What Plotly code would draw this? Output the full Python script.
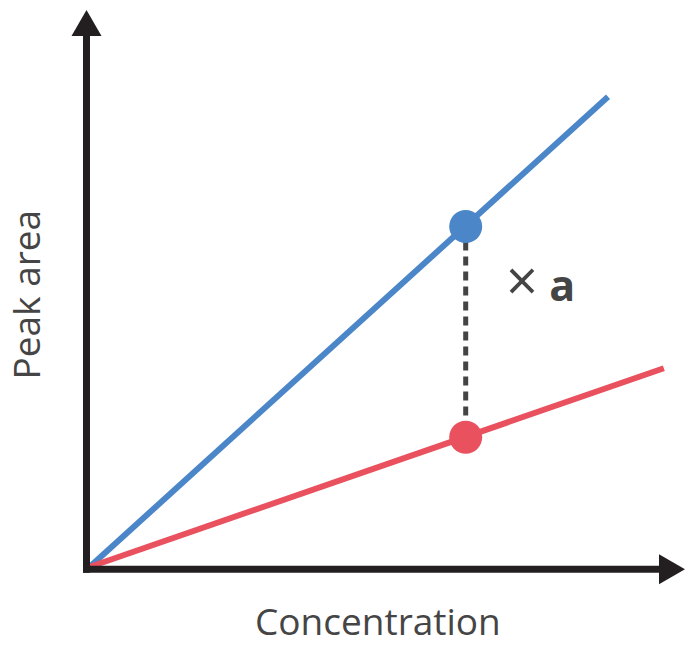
import plotly.graph_objects as go

# measured sample (arbitrary units)
sample_conc = [6.0]
blue_peak = [5.43]
red_peak = [2.07]

# calibration lines from the origin
blue_line_conc = [0, 8.27]
blue_line_area = [0, 7.50]
red_line_conc = [0, 9.16]
red_line_area = [0, 3.17]

x_label = "Concentration"
y_label = "Peak area"
ratio_label = "<span style='font-size:56px;font-weight:400'>×</span> a"

BLUE = "#4a86c8"
RED = "#e9515e"
AXIS = "#231f20"
TEXT = "#454545"

W, H = 696, 646
X0_PX, Y0_PX = 89.5, 567   # where the origin sits on the page
SCALE = 62.7               # pixels per unit


def ux(px):
    return (px - X0_PX) / SCALE


def uy(py):
    return (Y0_PX - py) / SCALE


fig = go.Figure()

# dashed link between the two points
fig.add_trace(go.Scatter(
    x=sample_conc * 2, y=[blue_peak[0], red_peak[0]],
    mode="lines", line=dict(color="#444444", width=5, dash="9px,6px"),
))
fig.add_trace(go.Scatter(
    x=blue_line_conc, y=blue_line_area, mode="lines",
    line=dict(color=BLUE, width=6),
))
fig.add_trace(go.Scatter(
    x=red_line_conc, y=red_line_area, mode="lines",
    line=dict(color=RED, width=6),
))
fig.add_trace(go.Scatter(
    x=sample_conc, y=blue_peak, mode="markers",
    marker=dict(color=BLUE, size=33, line_width=0),
))
fig.add_trace(go.Scatter(
    x=sample_conc, y=red_peak, mode="markers",
    marker=dict(color=RED, size=33, line_width=0),
))

# axes with arrow heads
shapes = [
    dict(type="line", x0=ux(86.5), x1=ux(86.5), y0=uy(572.7), y1=uy(35),
         line=dict(color=AXIS, width=7)),
    dict(type="line", x0=ux(83), x1=ux(660), y0=uy(569.3), y1=uy(569.3),
         line=dict(color=AXIS, width=7)),
    dict(type="path",
         path="M {},{} L {},{} L {},{} Z".format(ux(71.5), uy(36), ux(101.5), uy(36), ux(86.5), uy(10)),
         fillcolor=AXIS, line_width=0),
    dict(type="path",
         path="M {},{} L {},{} L {},{} Z".format(ux(659), uy(554.3), ux(659), uy(584.3), ux(685), uy(569.3)),
         fillcolor=AXIS, line_width=0),
]

annotations = [
    dict(x=ux(377.5), y=uy(620), text=x_label, showarrow=False,
         xanchor="center", yanchor="middle",
         font=dict(family="Open Sans", size=37, color=TEXT)),
    dict(x=ux(25), y=uy(294.5), text=y_label, showarrow=False, textangle=-90,
         xanchor="center", yanchor="middle",
         font=dict(family="Open Sans", size=37, color=TEXT)),
    dict(x=ux(540.5), y=uy(279), text=ratio_label, showarrow=False,
         xanchor="center", yanchor="middle",
         font=dict(family="Open Sans", size=43, color=TEXT, weight=700)),
]

fig.update_layout(
    width=W, height=H, autosize=False,
    margin=dict(l=0, r=0, t=0, b=0),
    paper_bgcolor="white", plot_bgcolor="white",
    showlegend=False, hovermode=False,
    shapes=shapes, annotations=annotations,
    xaxis=dict(range=[ux(0), ux(W)], visible=False, fixedrange=True),
    yaxis=dict(range=[uy(H), uy(0)], visible=False, fixedrange=True),
)

fig.write_html("out.html", config={"displayModeBar": False},
               post_script="document.body.style.margin='0';")
